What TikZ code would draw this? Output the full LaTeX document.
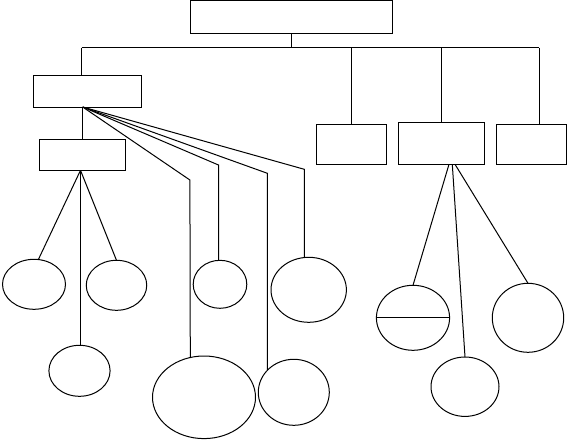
\documentclass[tikz,border=0pt]{standalone}
\usetikzlibrary{shapes.geometric}
\begin{document}
\begin{tikzpicture}[x=1pt,y=-1pt,line width=1pt,
  box/.style={draw,rectangle,inner sep=0pt,outer sep=0pt},
  oval/.style={draw,ellipse,inner sep=0pt,outer sep=0pt},
  link/.style={draw,line width=1pt}]
\useasboundingbox (0,0) rectangle (568,440);
% boxes
\node[box,minimum width=202.5pt,minimum height=33pt] (T) at (291.7,17) {};
\node[box,minimum width=107.7pt,minimum height=31.7pt] (A) at (87.2,91.2) {};
\node[box,minimum width=86.2pt,minimum height=31pt] (B) at (82.6,154.8) {};
\node[box,minimum width=70.4pt,minimum height=40pt] (C) at (351.5,144.3) {};
\node[box,minimum width=86pt,minimum height=42pt] (D) at (441.5,143.3) {};
\node[box,minimum width=70pt,minimum height=40pt] (E) at (531,144.3) {};
% ellipses
\node[oval,minimum width=63pt,minimum height=50pt] (E1) at (34,284.3) {};
\node[oval,minimum width=60.5pt,minimum height=50pt] (E2) at (116.5,285.3) {};
\node[oval,minimum width=61.2pt,minimum height=51pt] (E3) at (79.5,370.8) {};
\node[oval,minimum width=53.6pt,minimum height=48pt] (E4) at (220,284.3) {};
\node[oval,minimum width=75.4pt,minimum height=65pt] (E5) at (308.7,289.8) {};
\node[oval,minimum width=103pt,minimum height=82.6pt] (E6) at (204,397.3) {};
\node[oval,minimum width=71pt,minimum height=66pt] (E7) at (293.8,392.3) {};
\node[oval,minimum width=73.2pt,minimum height=65pt] (E8) at (413,317.8) {};
\node[oval,minimum width=71.4pt,minimum height=69pt] (E9) at (528,317.8) {};
\node[oval,minimum width=68pt,minimum height=59.4pt] (E10) at (465,386.7) {};
% helper coordinates
\coordinate (barL) at (81.5,47.7);
\coordinate (barR) at (539,47.7);
\coordinate (Afan) at (82.7,107);
\coordinate (Bfan) at (80.5,170.3);
\coordinate (k1) at (189.9,180);
\coordinate (k2) at (218.5,165);
\coordinate (k3) at (267.4,173.3);
\coordinate (k4) at (304.3,169.3);
\coordinate (d1) at (449,164.3);
\coordinate (d2) at (452.3,164.3);
\coordinate (d3) at (455,164.3);
% top bar
\draw[link] (barL) -- (barR);
\draw[link] (T.south) -- (T.south |- barL);
\draw[link] (barL) -- (barL |- A.north);
\draw[link] (barL -| C.north) -- (C.north);
\draw[link] (barL -| D.north) -- (D.north);
\draw[link] (barR) -- (barR |- E.north);
% A fan
\draw[link] (Afan) -- (Afan |- B.north);
\draw[link] (Afan) -- (k1) -- (E6.109.6);
\draw[link] (Afan) -- (k2) -- (k2 |- E4.north);
\draw[link] (Afan) -- (k3) -- (E7.140);
\draw[link] (Afan) -- (k4) -- (k4 |- E5.north);
% B fan
\draw[link] (Bfan) -- (E1.80);
\draw[link] (Bfan) -- (Bfan |- E3.north);
\draw[link] (Bfan) -- (E2.north);
% D fan
\draw[link] (d1) -- (E8.north);
\draw[link] (d2) -- (E10.north);
\draw[link] (d3) -- (E9.north);
% split ellipse
\draw[link] (E8.west) -- (E8.east);
\end{tikzpicture}
\end{document}
